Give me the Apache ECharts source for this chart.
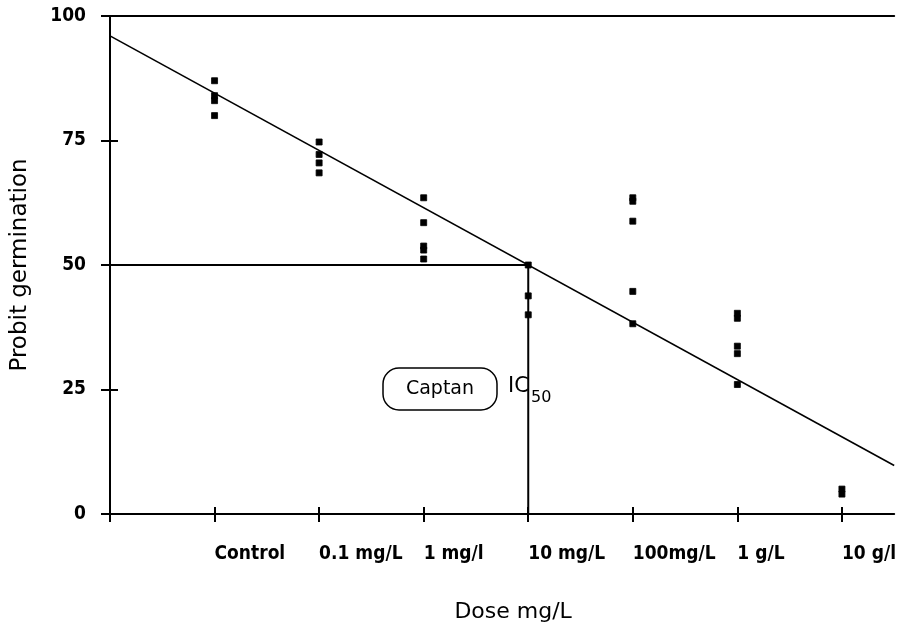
<!DOCTYPE html>
<html>
<head>
<meta charset="utf-8">
<script src="https://cdn.jsdelivr.net/npm/echarts@6/dist/echarts.min.js"></script>
<style>html,body{margin:0;padding:0;background:#fff}#c{width:899px;height:628px}</style>
</head>
<body>
<div id="c"></div>
<script>
// Dose categories placed at x = 1..7
var categories = ['Control', '0.1 mg/L', '1 mg/l', '10 mg/L', '100mg/L', '1 g/L', '10 g/l'];
var categoryPos = [1, 2, 3, 4, 5, 6, 7];
var yTicks = [0, 25, 50, 75, 100];
// Probit germination readings per dose
var valsControl = [87, 84, 83, 80];
var vals01 = [74.7, 72.2, 70.5, 68.5];
var vals1 = [63.5, 58.5, 53.8, 53, 51.2];
var vals10 = [50, 43.8, 40];
var vals100 = [63.5, 62.8, 58.8, 44.7, 38.2];
var vals1g = [40.3, 39.3, 33.7, 32.2, 26];
var vals10g = [5, 4];
// Regression line endpoints (x, probit)
var fitX = [0, 7.5];
var fitY = [96, 9.75];
// IC50 guide
var ic50Value = 50;
var ic50Pos = 4;

var groups = [valsControl, vals01, vals1, vals10, vals100, vals1g, vals10g];
var points = [];
groups.forEach(function (g, i) {
  g.forEach(function (v) { points.push([categoryPos[i], v]); });
});

var FONT = '"DejaVu Sans", Verdana, sans-serif';
var TICKFONT = '"DejaVu Sans Condensed", "Liberation Sans Narrow", "Arial Narrow", "Liberation Sans", sans-serif';
var chart = echarts.init(document.getElementById('c'), null, {renderer: 'canvas'});
var axisCommon = {type: 'value', min: 0, max: 7.5, gridIndex: 0};
chart.setOption({
  animation: false,
  grid: {left: 110, right: 4, top: 16, bottom: 113, containLabel: false},
  xAxis: [
    Object.assign({}, axisCommon, {
      position: 'bottom',
      axisLine: {show: true, lineStyle: {color: '#000', width: 2}},
      axisTick: {show: true, inside: false, length: 8, lineStyle: {color: '#000', width: 2}, customValues: [0].concat(categoryPos)},
      axisLabel: {
        show: true, customValues: categoryPos, align: 'left', verticalAlign: 'top', margin: 31,
        color: '#000', fontFamily: TICKFONT, fontSize: 19, fontWeight: 'bold',
        formatter: function (v) { var i = categoryPos.indexOf(v); return i >= 0 ? categories[i] : ''; }
      },
      splitLine: {show: false},
      name: 'Dose mg/L', nameLocation: 'middle', nameGap: 87,
      nameTextStyle: {color: '#000', fontFamily: FONT, fontSize: 22, verticalAlign: 'top', padding: [0, 0, 0, 22]}
    }),
    Object.assign({}, axisCommon, {
      position: 'bottom',
      axisLine: {show: false},
      axisTick: {show: true, inside: true, length: 7, lineStyle: {color: '#000', width: 2}, customValues: [0].concat(categoryPos)},
      axisLabel: {show: false},
      splitLine: {show: false}
    }),
    Object.assign({}, axisCommon, {
      position: 'top',
      axisLine: {show: true, lineStyle: {color: '#000', width: 2}},
      axisTick: {show: false}, axisLabel: {show: false}, splitLine: {show: false}
    })
  ],
  yAxis: [
    {
      type: 'value', min: 0, max: 100, interval: 25, position: 'left',
      axisLine: {show: true, lineStyle: {color: '#000', width: 2}},
      axisTick: {show: true, inside: false, length: 9, lineStyle: {color: '#000', width: 2}},
      axisLabel: {show: true, margin: 24, color: '#000', fontFamily: TICKFONT, fontSize: 19, fontWeight: 'bold'},
      splitLine: {show: false},
      name: 'Probit germination', nameLocation: 'middle', nameGap: 78,
      nameTextStyle: {color: '#000', fontFamily: FONT, fontSize: 23}
    },
    {
      type: 'value', min: 0, max: 100, interval: 25, position: 'left',
      axisLine: {show: false},
      axisTick: {show: true, inside: true, length: 8, lineStyle: {color: '#000', width: 2}},
      axisLabel: {show: false}, splitLine: {show: false}
    }
  ],
  series: [
    {
      type: 'line', xAxisIndex: 0, yAxisIndex: 0,
      data: [[fitX[0], fitY[0]], [fitX[1], fitY[1]]],
      symbol: 'none', lineStyle: {color: '#000', width: 1.6}, silent: true
    },
    {
      type: 'line', xAxisIndex: 0, yAxisIndex: 0,
      data: [[0, ic50Value], [ic50Pos, ic50Value], [ic50Pos, 0]],
      symbol: 'none', lineStyle: {color: '#000', width: 2}, silent: true
    },
    {
      type: 'scatter', xAxisIndex: 0, yAxisIndex: 0,
      data: points, symbol: 'rect', symbolSize: [6, 6],
      itemStyle: {color: '#000', opacity: 1, borderColor: '#000', borderWidth: 0.8}
    }
  ],
  graphic: [
    {type: 'rect', shape: {x: 383, y: 368, width: 114, height: 42, r: 16},
     style: {fill: '#fff', stroke: '#000', lineWidth: 1.5}},
    {type: 'text', x: 440, y: 389, style: {text: 'Captan', fill: '#000', font: '19px ' + FONT, textAlign: 'center', textVerticalAlign: 'middle'}},
    {type: 'text', x: 508, y: 387, style: {text: 'IC', fill: '#000', font: '21px ' + FONT, textAlign: 'left', textVerticalAlign: 'middle'}},
    {type: 'text', x: 531, y: 398, style: {text: '50', fill: '#000', font: '16px ' + FONT, textAlign: 'left', textVerticalAlign: 'middle'}}
  ]
});
</script>
</body>
</html>
